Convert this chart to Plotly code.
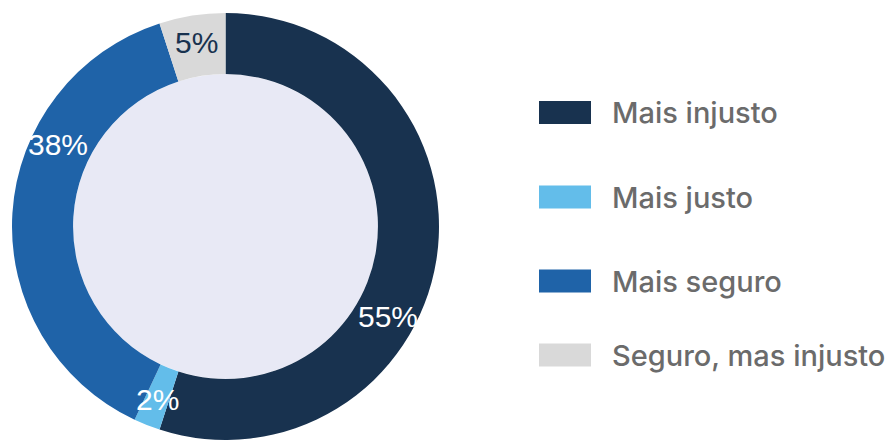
import math
import plotly.graph_objects as go

# Survey answers and their shares (%)
categories = ["Mais injusto", "Mais justo", "Mais seguro", "Seguro, mas injusto"]
shares = [55, 2, 38, 5]
colors = ["#18324F", "#63BDEA", "#1F63A8", "#D9D9D9"]
label_colors = ["#FFFFFF", "#FFFFFF", "#FFFFFF", "#18324F"]

W, H = 887, 440
cx, cy, r_out = 225.5, 226.5, 213.5      # donut geometry in px
hole = 0.714

fig = go.Figure(go.Pie(
    labels=categories, values=shares, sort=False,
    direction="clockwise", rotation=0, hole=hole,
    marker=dict(colors=colors, line=dict(width=0)),
    textinfo="none", hoverinfo="label+percent", showlegend=False,
    domain=dict(x=[(cx - r_out) / W, (cx + r_out) / W],
                y=[0, (H - cy + r_out) / H]),
))

# light fill inside the hole
r_in = r_out * hole
fig.add_shape(type="circle", xref="paper", yref="paper", layer="below",
              x0=(cx - r_in) / W, x1=(cx + r_in) / W,
              y0=1 - (cy + r_in) / H, y1=1 - (cy - r_in) / H,
              fillcolor="#E8E9F5", line=dict(width=0))

# percentage labels around the ring (angle nudged for the two large slices)
nudge = [20.0, 0.0, 22.5, 0.0]
r_lab = 186
total = sum(shares)
start = 0.0
for v, c, dn in zip(shares, label_colors, nudge):
    span = 360.0 * v / total
    a = math.radians(start + span / 2 + dn)
    px = cx + r_lab * math.sin(a)
    py = cy - r_lab * math.cos(a)
    fig.add_annotation(x=px / W, y=1 - py / H, xref="paper", yref="paper",
                       text=f"{v}%", showarrow=False, xanchor="center", yanchor="middle",
                       font=dict(family="Liberation Sans, Arial", size=30, color=c))
    start += span

# legend: swatches and names
legend_rows = [112.5, 197, 281, 355]
for name, col, ry in zip(categories, colors, legend_rows):
    fig.add_shape(type="rect", xref="paper", yref="paper",
                  x0=539 / W, x1=591 / W, y0=1 - (ry + 11.5) / H, y1=1 - (ry - 11.5) / H,
                  fillcolor=col, line=dict(width=0))
    fig.add_annotation(x=610 / W, y=1 - ry / H, xref="paper", yref="paper",
                       text=name, showarrow=False, xanchor="left", yanchor="middle",
                       font=dict(family="Inter, Liberation Sans", size=29, color="#6B6B6B",
                                 weight=500))

fig.update_layout(width=W, height=H, margin=dict(l=0, r=0, t=0, b=0),
                  paper_bgcolor="white", plot_bgcolor="white")
fig.write_html("out.html")
